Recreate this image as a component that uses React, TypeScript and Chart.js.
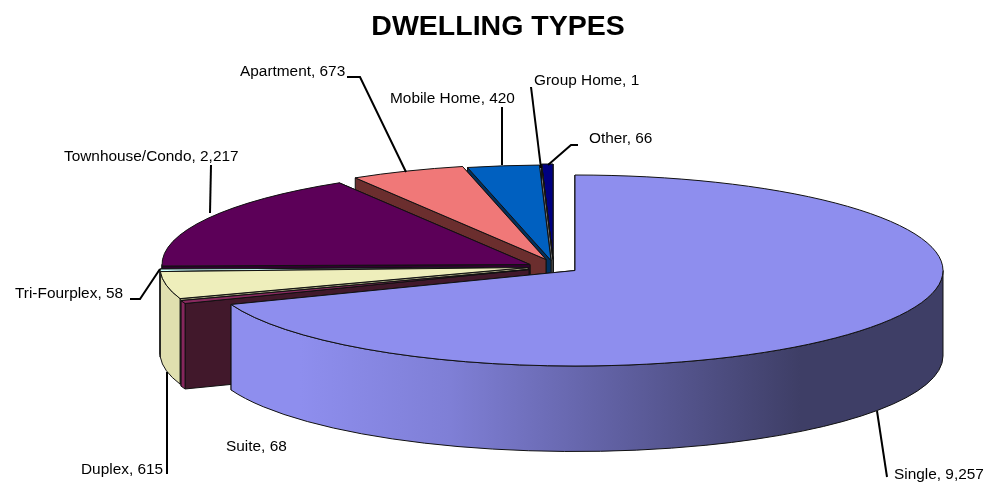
import React, { useEffect, useRef } from "react";
import { Chart, registerables } from "chart.js";

Chart.register(...registerables);

const categories = ["Single", "Suite", "Duplex", "Tri-Fourplex", "Townhouse/Condo", "Apartment", "Mobile Home", "Group Home", "Other"];
const values = [9257, 68, 615, 58, 2217, 673, 420, 1, 66];
const topColors = ["#8E8EEE", "#8A2A60", "#EEEEBB", "#CCFFFF", "#5C0058", "#F07878", "#0060C0", "#C8C8C8", "#000080"];
const outerWallColors = ["#8E8EEE", "#85265C", "#E0DFAF", "#E0DFAF", "#300030", "#6B2E2E", "#003366", "#808080", "#000060"];
const cutWallColors = ["#3E3E66", "#41182B", "#9A9A78", "#7AA0A0", "#300030", "#6B2E2E", "#00305F", "#707070", "#000050"];

// Projection of the flat pie into the tilted view
const CENTER = { x: 575, y: 270.5 };
const RX = 368;
const RY = 95.5;
const DEPTH = 85.5;
// Explosion of each slice on screen, same order as categories
const explode = [[0, 0], [-46, -1], [-47, -3], [-47, -3], [-45, -6], [-29, -11], [-24, -10], [-22, -11], [-22, -11]];

// label: left x, middle y; leader polyline
const labelLayout: { x: number; y: number; line: number[][] }[] = [
  { x: 894, y: 475, line: [[887, 477], [877, 411]] },
  { x: 226, y: 447, line: [] },
  { x: 81, y: 470, line: [[167, 474], [167, 372]] },
  { x: 15, y: 294, line: [[130, 299], [140, 299], [160, 269]] },
  { x: 64, y: 157, line: [[211, 165], [210, 213]] },
  { x: 240, y: 72, line: [[347, 77], [360, 77], [406, 172]] },
  { x: 390, y: 99, line: [[502, 107], [502, 165]] },
  { x: 534, y: 81, line: [[531, 87], [541, 168]] },
  { x: 589, y: 139, line: [[578, 145], [571, 145], [548, 165]] },
];

const tiltedPie = {
  id: "tiltedPie",
  beforeDatasetsDraw(chart: any) {
    const ctx: CanvasRenderingContext2D = chart.ctx;
    const arcs = chart.getDatasetMeta(0).data;
    for (let i = arcs.length - 1; i >= 0; i--) {
      const a = arcs[i];
      const cx = CENTER.x + explode[i][0];
      const cy = CENTER.y + explode[i][1];
      const s = a.startAngle;
      const e = a.endAngle;
      const px = (t: number) => cx + RX * Math.cos(t);
      const py = (t: number) => cy + RY * Math.sin(t);

      ctx.save();
      ctx.lineWidth = 1;
      ctx.strokeStyle = "#111";
      ctx.lineJoin = "round";

      // cut walls
      ctx.fillStyle = cutWallColors[i];
      for (const t of [e, s]) {
        ctx.beginPath();
        ctx.moveTo(cx, cy);
        ctx.lineTo(px(t), py(t));
        ctx.lineTo(px(t), py(t) + DEPTH);
        ctx.lineTo(cx, cy + DEPTH);
        ctx.closePath();
        ctx.fill();
        ctx.stroke();
      }

      // outer wall, only the part turned to the viewer
      const v0 = Math.max(s, 0);
      const v1 = Math.min(e, Math.PI);
      if (v1 > v0) {
        ctx.beginPath();
        ctx.ellipse(cx, cy, RX, RY, 0, v0, v1);
        ctx.ellipse(cx, cy + DEPTH, RX, RY, 0, v1, v0, true);
        ctx.closePath();
        if (i === 0) {
          const g = ctx.createLinearGradient(300, 0, 800, 0);
          g.addColorStop(0, "#8E8EEE");
          g.addColorStop(0.3, "#7F7FD6");
          g.addColorStop(0.64, "#5F5FA0");
          g.addColorStop(1, "#3E3E66");
          ctx.fillStyle = g;
        } else {
          ctx.fillStyle = outerWallColors[i];
        }
        ctx.fill();
        ctx.stroke();
      }

      // top face: the library's own arc, put through the projection
      ctx.save();
      ctx.translate(cx, cy);
      ctx.scale(RX / a.outerRadius, RY / a.outerRadius);
      ctx.translate(-a.x, -a.y);
      a.draw(ctx);
      ctx.restore();

      ctx.beginPath();
      ctx.moveTo(cx, cy);
      ctx.ellipse(cx, cy, RX, RY, 0, s, e);
      ctx.closePath();
      ctx.stroke();
      ctx.restore();
    }

    // leaders and labels
    ctx.save();
    ctx.font = "15.4px 'Liberation Sans', Arial, sans-serif";
    ctx.textAlign = "left";
    ctx.textBaseline = "middle";
    ctx.fillStyle = "#000";
    ctx.strokeStyle = "#000";
    ctx.lineWidth = 2;
    categories.forEach((name, i) => {
      const l = labelLayout[i];
      if (l.line.length) {
        ctx.beginPath();
        l.line.forEach(([x, y], k) => (k ? ctx.lineTo(x, y) : ctx.moveTo(x, y)));
        ctx.stroke();
      }
      ctx.fillText(`${name}, ${values[i].toLocaleString("en-US")}`, l.x, l.y);
    });
    ctx.restore();
    return false;
  },
};

export default function App() {
  const ref = useRef<HTMLCanvasElement>(null);
  useEffect(() => {
    const chart = new Chart(ref.current!, {
      type: "pie",
      data: {
        labels: categories,
        datasets: [{ data: values, backgroundColor: topColors, borderWidth: 0 }],
      },
      options: {
        responsive: false,
        animation: false,
        layout: { padding: { right: 4, top: 0 } },
        plugins: {
          legend: { display: false },
          tooltip: { enabled: false },
          title: {
            display: true,
            text: "DWELLING TYPES",
            color: "#000",
            font: { family: "'Liberation Sans', Arial, sans-serif", size: 28.5, weight: "bold" },
            padding: { top: 10, bottom: 8 },
          },
        },
      },
      plugins: [tiltedPie],
    } as any);
    return () => chart.destroy();
  }, []);
  return (
    <div style={{ position: "absolute", left: 0, top: 0, width: 1000, height: 483, background: "#fff" }}>
      <canvas ref={ref} width={1000} height={483} style={{ display: "block" }} />
    </div>
  );
}
